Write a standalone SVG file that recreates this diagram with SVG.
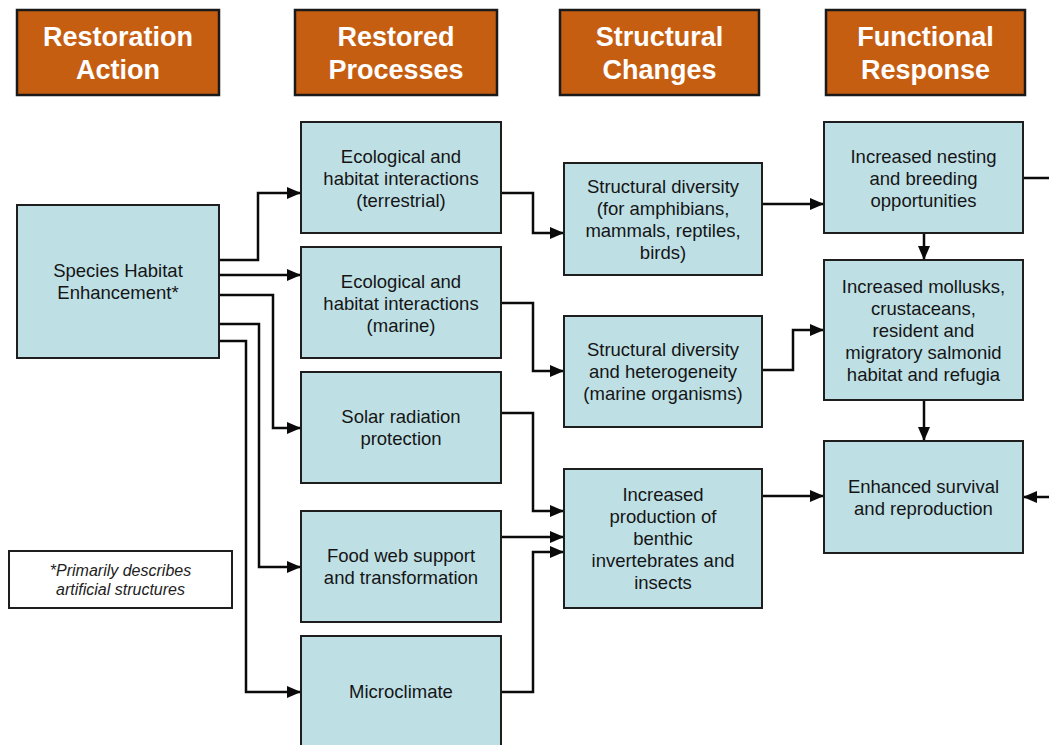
<svg xmlns="http://www.w3.org/2000/svg" width="1049" height="745" viewBox="0 0 1049 745">
<style>
.hdr rect{fill:#C65E12;stroke:#1a1a1a;stroke-width:2.5}
.hdr text{font-family:"Liberation Sans",Arial,sans-serif;font-weight:bold;font-size:27px;fill:#ffffff;text-anchor:middle}
.node rect{fill:#BEE0E5;stroke:#1e1e1e;stroke-width:2}
.node text{font-family:"Liberation Sans",Arial,sans-serif;font-size:18.5px;fill:#151515;text-anchor:middle}
.note rect{fill:#ffffff;stroke:#1e1e1e;stroke-width:2}
.note text{font-family:"Liberation Sans",Arial,sans-serif;font-style:italic;font-size:16px;fill:#222;text-anchor:middle}
#connectors path{fill:none;stroke:#0a0a0a;stroke-width:2.5;marker-end:url(#ah)}
#connectors path.plain{marker-end:none}
</style>
<defs>
<marker id="ah" markerUnits="userSpaceOnUse" markerWidth="14" markerHeight="12" refX="14" refY="6" orient="auto">
<path d="M0,0 L14,6 L0,12 z" fill="#0a0a0a"/>
</marker>
</defs>
<rect width="1049" height="745" fill="#ffffff"/>

<g id="hdr-action" class="hdr"><rect x="17" y="10" width="202" height="85"/><text x="118" y="46">Restoration</text><text x="118" y="79">Action</text></g>
<g id="hdr-processes" class="hdr"><rect x="295" y="10" width="202" height="85"/><text x="396" y="46">Restored</text><text x="396" y="79">Processes</text></g>
<g id="hdr-structural" class="hdr"><rect x="560" y="10" width="199" height="85"/><text x="659.5" y="46">Structural</text><text x="659.5" y="79">Changes</text></g>
<g id="hdr-functional" class="hdr"><rect x="826" y="10" width="199" height="85"/><text x="925.5" y="46">Functional</text><text x="925.5" y="79">Response</text></g>

<g id="connectors">
<path d="M219,260 H258 V193 H301"/>
<path d="M219,275 H301"/>
<path d="M219,295 H273 V428 H301"/>
<path d="M219,324 H259 V567 H301"/>
<path d="M219,341 H246 V692 H301"/>
<path d="M501,193 H533 V233 H564"/>
<path d="M501,303 H533 V371 H564"/>
<path d="M501,413 H533 V511 H564"/>
<path d="M501,537 H564"/>
<path d="M501,692 H533 V552 H564"/>
<path d="M762,204 H824"/>
<path d="M762,370 H793 V330 H824"/>
<path d="M762,496 H824"/>
<path d="M924,233 V260"/>
<path d="M924,400 V441"/>
<path d="M1023,178 H1062 V497 H1023"/>
</g>

<g id="n-species" class="node"><rect x="17" y="205" width="202" height="153"/><text x="118" y="277">Species Habitat</text><text x="118" y="299">Enhancement*</text></g>

<g id="n-eco-terr" class="node"><rect x="301" y="122" width="200" height="111"/><text x="401" y="163">Ecological and</text><text x="401" y="185">habitat interactions</text><text x="401" y="207">(terrestrial)</text></g>
<g id="n-eco-marine" class="node"><rect x="301" y="247" width="200" height="111"/><text x="401" y="288">Ecological and</text><text x="401" y="310">habitat interactions</text><text x="401" y="332">(marine)</text></g>
<g id="n-solar" class="node"><rect x="301" y="372" width="200" height="111"/><text x="401" y="423">Solar radiation</text><text x="401" y="445">protection</text></g>
<g id="n-food" class="node"><rect x="301" y="511" width="200" height="111"/><text x="401" y="562">Food web support</text><text x="401" y="584">and transformation</text></g>
<g id="n-micro" class="node"><rect x="301" y="636" width="200" height="112"/><text x="401" y="698">Microclimate</text></g>

<g id="n-struct-terr" class="node"><rect x="564" y="163" width="198" height="112"/><text x="663" y="192.5">Structural diversity</text><text x="663" y="214.5">(for amphibians,</text><text x="663" y="236.5">mammals, reptiles,</text><text x="663" y="258.5">birds)</text></g>
<g id="n-struct-marine" class="node"><rect x="564" y="316" width="198" height="111"/><text x="663" y="356">Structural diversity</text><text x="663" y="378">and heterogeneity</text><text x="663" y="400">(marine organisms)</text></g>
<g id="n-benthic" class="node"><rect x="564" y="469" width="198" height="139"/><text x="663" y="501">Increased</text><text x="663" y="523">production of</text><text x="663" y="545">benthic</text><text x="663" y="567">invertebrates and</text><text x="663" y="589">insects</text></g>

<g id="n-nesting" class="node"><rect x="824" y="122" width="199" height="111"/><text x="923.5" y="163">Increased nesting</text><text x="923.5" y="185">and breeding</text><text x="923.5" y="207">opportunities</text></g>
<g id="n-mollusks" class="node"><rect x="824" y="260" width="199" height="140"/><text x="923.5" y="292.5">Increased mollusks,</text><text x="923.5" y="314.5">crustaceans,</text><text x="923.5" y="336.5">resident and</text><text x="923.5" y="358.5">migratory salmonid</text><text x="923.5" y="380.5">habitat and refugia</text></g>
<g id="n-survival" class="node"><rect x="824" y="441" width="199" height="112"/><text x="923.5" y="492.5">Enhanced survival</text><text x="923.5" y="514.5">and reproduction</text></g>

<g id="note" class="note"><rect x="9" y="551" width="223" height="57"/><text x="120.5" y="576">*Primarily describes</text><text x="120.5" y="595">artificial structures</text></g>
</svg>
